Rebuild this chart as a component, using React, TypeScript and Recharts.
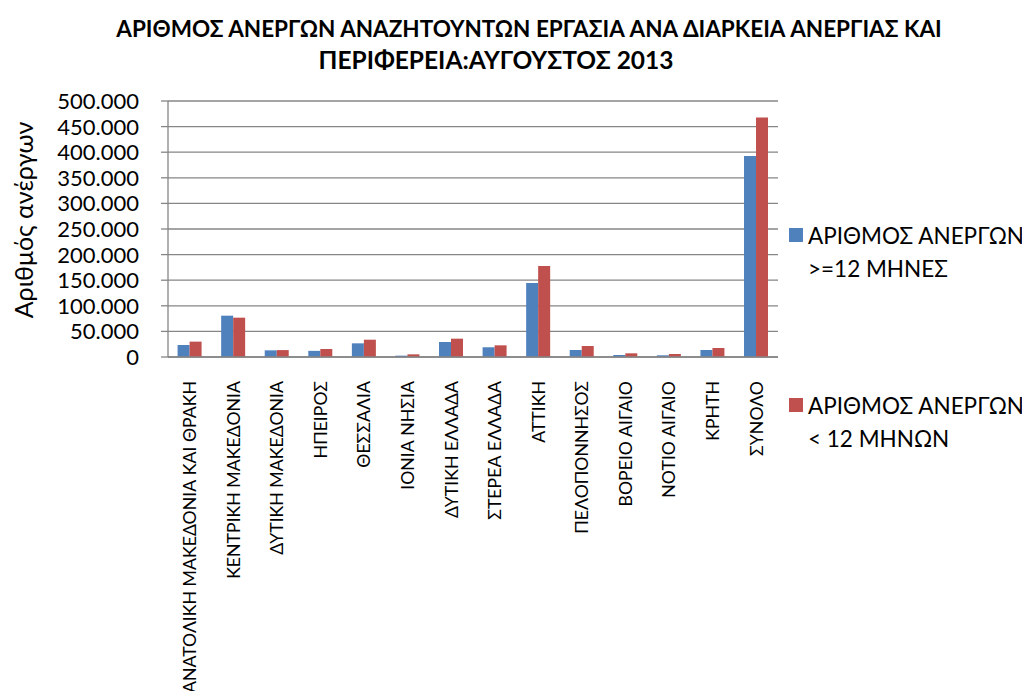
import React from 'react';
import { BarChart, Bar, XAxis, YAxis, CartesianGrid } from 'recharts';

const categories = [
  'ΑΝΑΤΟΛΙΚΗ ΜΑΚΕΔΟΝΙΑ ΚΑΙ ΘΡΑΚΗ',
  'ΚΕΝΤΡΙΚΗ ΜΑΚΕΔΟΝΙΑ',
  'ΔΥΤΙΚΗ ΜΑΚΕΔΟΝΙΑ',
  'ΗΠΕΙΡΟΣ',
  'ΘΕΣΣΑΛΙΑ',
  'ΙΟΝΙΑ ΝΗΣΙΑ',
  'ΔΥΤΙΚΗ ΕΛΛΑΔΑ',
  'ΣΤΕΡΕΑ ΕΛΛΑΔΑ',
  'ΑΤΤΙΚΗ',
  'ΠΕΛΟΠΟΝΝΗΣΟΣ',
  'ΒΟΡΕΙΟ ΑΙΓΑΙΟ',
  'ΝΟΤΙΟ ΑΙΓΑΙΟ',
  'ΚΡΗΤΗ',
  'ΣΥΝΟΛΟ',
];

const longTerm = [23400, 80700, 13000, 12000, 26700, 2600, 29300, 19000, 144500, 13700, 3900, 3300, 13700, 392600];
const shortTerm = [30000, 76800, 13500, 15600, 33800, 5200, 35800, 22800, 177700, 21500, 7200, 5900, 17600, 468000];

const yTicks = [0, 50000, 100000, 150000, 200000, 250000, 300000, 350000, 400000, 450000, 500000];

const seriesNames = [
  ['ΑΡΙΘΜΟΣ ΑΝΕΡΓΩΝ', '>=12 ΜΗΝΕΣ'],
  ['ΑΡΙΘΜΟΣ ΑΝΕΡΓΩΝ', '< 12 ΜΗΝΩΝ'],
];
const seriesColors = ['#4F81BD', '#C0504D'];

const titleLines = [
  'ΑΡΙΘΜΟΣ ΑΝΕΡΓΩΝ ΑΝΑΖΗΤΟΥΝΤΩΝ ΕΡΓΑΣΙΑ ΑΝΑ ΔΙΑΡΚΕΙΑ ΑΝΕΡΓΙΑΣ ΚΑΙ',
  'ΠΕΡΙΦΕΡΕΙΑ:ΑΥΓΟΥΣΤΟΣ 2013',
];
const yAxisTitle = 'Αριθμός ανέργων';

const data = categories.map((name, i) => ({ name, a: longTerm[i], b: shortTerm[i] }));

const FONT = 'Lato, "Open Sans", "Noto Sans", sans-serif';
const GRID = '#868686';

const fmt = (v: number) => {
  if (v === 0) return '0';
  const s = String(Math.round(v));
  return s.replace(/\B(?=(\d{3})+(?!\d))/g, '.');
};

const XTick = (props: any) => {
  const { x, payload } = props;
  const y0 = 381;
  return (
    <text
      x={x}
      y={y0}
      transform={`rotate(-90, ${x}, ${y0})`}
      textAnchor="end"
      dy="0.36em"
      fontSize={17.7}
      fontFamily={FONT}
      fill="#000"
    >
      {payload.value}
    </text>
  );
};

const YTick = (props: any) => {
  const { x, y, payload } = props;
  return (
    <text x={x} y={y} textAnchor="end" dy="0.36em" fontSize={22} fontFamily={FONT} fill="#000">
      {fmt(payload.value)}
    </text>
  );
};

export default function App() {
  return (
    <div style={{ position: 'relative', width: 1030, height: 699, margin: -8, background: '#fff', overflow: 'hidden', fontFamily: FONT }}>
      <BarChart
        width={1030}
        height={699}
        data={data}
        margin={{ top: 101, right: 252, bottom: 0, left: 0 }}
        barCategoryGap="22%"
        barGap={0}
      >
        <CartesianGrid vertical={false} stroke={GRID} strokeWidth={1.3} />
        <XAxis
          dataKey="name"
          height={342}
          interval={0}
          tickLine={false}
          axisLine={{ stroke: GRID, strokeWidth: 1.3 }}
          tick={<XTick />}
        />
        <YAxis
          width={168}
          domain={[0, 500000]}
          ticks={yTicks}
          interval={0}
          tickSize={7}
          tickMargin={22}
          tickLine={{ stroke: GRID, strokeWidth: 1.3 }}
          axisLine={{ stroke: GRID, strokeWidth: 1.3 }}
          tick={<YTick />}
        />
        <Bar dataKey="a" fill={seriesColors[0]} isAnimationActive={false} />
        <Bar dataKey="b" fill={seriesColors[1]} isAnimationActive={false} />
      </BarChart>
      <svg width={1030} height={699} style={{ position: 'absolute', left: 0, top: 0, pointerEvents: 'none' }}>
        <text x={529} y={28} textAnchor="middle" dominantBaseline="central" fontSize={22.5} fontWeight="bold" fontFamily={FONT}>
          {titleLines[0]}
        </text>
        <text x={496} y={59} textAnchor="middle" dominantBaseline="central" fontSize={24.5} fontWeight="bold" fontFamily={FONT}>
          {titleLines[1]}
        </text>
        <text
          x={23}
          y={220}
          transform="rotate(-90, 23, 220)"
          textAnchor="middle"
          dominantBaseline="central"
          fontSize={25}
          fontFamily={FONT}
        >
          {yAxisTitle}
        </text>
        {seriesNames.map((lines, i) => {
          const top = i === 0 ? 235 : 405;
          return (
            <g key={i}>
              <rect x={789} y={top - 7} width={14} height={14} fill={seriesColors[i]} />
              <text x={808} y={top} dominantBaseline="central" fontSize={22.5} fontFamily={FONT}>
                {lines[0]}
              </text>
              <text x={808} y={top + 33} dominantBaseline="central" fontSize={22.5} fontFamily={FONT}>
                {lines[1]}
              </text>
            </g>
          );
        })}
      </svg>
    </div>
  );
}
